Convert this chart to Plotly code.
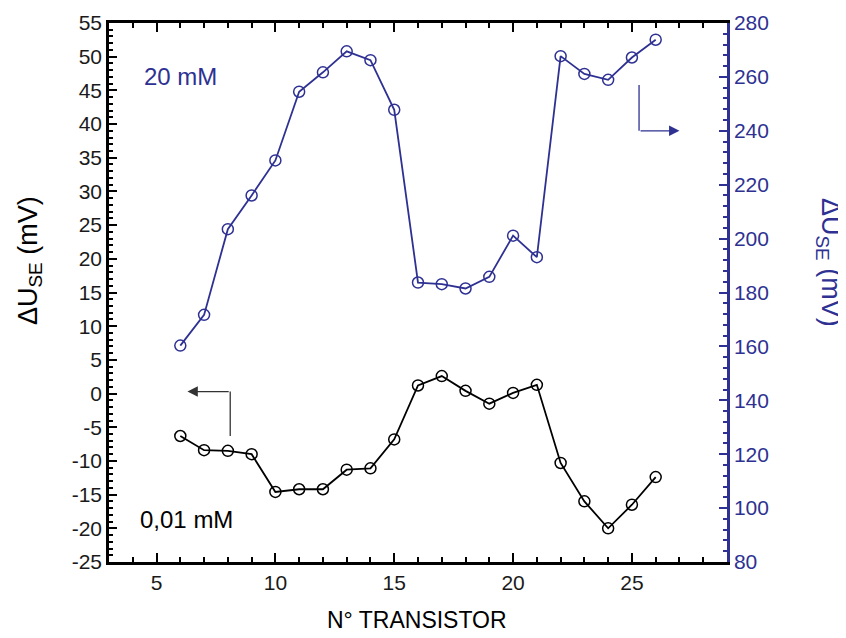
import plotly.graph_objects as go

# transistor index and the two ΔU_SE series
transistor = list(range(6, 27))
du_001mM = [-6.3, -8.4, -8.5, -9.0, -14.6, -14.2, -14.2, -11.3, -11.1, -6.8, 1.2,
            2.6, 0.4, -1.5, 0.1, 1.3, -10.3, -16.0, -20.0, -16.5, -12.4]
du_20mM = [160.3, 171.7, 203.5, 216.0, 229.0, 254.5, 261.7, 269.5, 266.2, 247.8, 183.7,
           183.1, 181.5, 185.8, 201.1, 193.1, 267.7, 261.1, 258.9, 267.2, 273.8]

# tick labels (hyphen minus as in the original)
left_ticks = list(range(-25, 60, 5))
left_labels = [str(v) for v in left_ticks]
right_ticks = list(range(80, 300, 20))
right_labels = [str(v) for v in right_ticks]

BLUE = '#2E3192'
FONT = 'Liberation Sans, Arial, sans-serif'

fig = go.Figure()
fig.add_trace(go.Scatter(
    x=transistor, y=du_001mM, mode='lines+markers', yaxis='y',
    line=dict(color='black', width=1.8),
    marker=dict(symbol='circle-open', size=11, color='black', line=dict(width=1.5)),
    showlegend=False
))
fig.add_trace(go.Scatter(
    x=transistor, y=du_20mM, mode='lines+markers', yaxis='y2',
    line=dict(color=BLUE, width=1.8),
    marker=dict(symbol='circle-open', size=11, color=BLUE, line=dict(width=1.5)),
    showlegend=False
))

# the page body adds an 8px offset, so margins are shifted to compensate
fig.update_layout(
    width=846, height=638,
    margin=dict(l=101, r=127, t=15, b=84),
    plot_bgcolor='white', paper_bgcolor='white',
    font=dict(family=FONT, size=21, color='black'),
    xaxis=dict(
        range=[3, 29], dtick=5, tick0=0, automargin=False,
        ticks='inside', ticklen=9, tickwidth=2, tickcolor='black',
        minor=dict(dtick=1, ticks='inside', ticklen=5, tickwidth=2, tickcolor='black'),
        showline=True, linewidth=2.5, linecolor='black', mirror='ticks',
        showgrid=False, zeroline=False,
        tickfont=dict(size=21, color='#1a1a1a')
    ),
    yaxis=dict(
        range=[-25, 55], tickmode='array', tickvals=left_ticks, ticktext=left_labels,
        automargin=False,
        ticks='inside', ticklen=8, tickwidth=2, tickcolor='black',
        minor=dict(dtick=1, tick0=0, ticks='inside', ticklen=4, tickwidth=2, tickcolor='black'),
        showline=True, linewidth=2.5, linecolor='black',
        showgrid=False, zeroline=False,
        tickfont=dict(size=21, color='#1a1a1a')
    ),
    yaxis2=dict(
        range=[80, 280], tickmode='array', tickvals=right_ticks, ticktext=right_labels,
        overlaying='y', side='right', automargin=False,
        ticks='inside', ticklen=8, tickwidth=2, tickcolor=BLUE,
        minor=dict(dtick=4, tick0=0, ticks='inside', ticklen=4, tickwidth=2, tickcolor=BLUE),
        showline=True, linewidth=2.5, linecolor=BLUE,
        showgrid=False, zeroline=False,
        tickfont=dict(size=21, color=BLUE)
    ),
)

# axis titles
fig.add_annotation(xref='paper', yref='paper', x=-0.128, y=0.56, textangle=-90,
                   xanchor='center', yanchor='middle',
                   text='ΔU<sub>SE</sub> (mV)', showarrow=False,
                   font=dict(size=27, color='black'))
fig.add_annotation(xref='paper', yref='paper', x=1.165, y=0.555, textangle=90,
                   xanchor='center', yanchor='middle',
                   text='ΔU<sub>SE</sub> (mV)', showarrow=False,
                   font=dict(size=27, color=BLUE))
fig.add_annotation(xref='paper', yref='paper', x=0.498, y=-0.108,
                   xanchor='center', yanchor='middle',
                   text='N° TRANSISTOR', showarrow=False,
                   font=dict(size=23, color='black'))

# series labels
fig.add_annotation(xref='x', yref='y', x=4.4, y=47.0, xanchor='left', yanchor='middle',
                   text='20 mM', showarrow=False, font=dict(size=24, color=BLUE))
fig.add_annotation(xref='x', yref='y', x=4.2, y=-18.7, xanchor='left', yanchor='middle',
                   text='0,01 mM', showarrow=False, font=dict(size=24, color='black'))

# axis pointer arrows
fig.add_shape(type='line', xref='x', yref='y', x0=8.1, x1=8.1, y0=-6.3, y1=0.3,
              line=dict(color='#333', width=1.3))
fig.add_annotation(xref='x', yref='y', axref='x', ayref='y', x=6.3, y=0.3, ax=8.1, ay=0.3,
                   text='', showarrow=True, arrowhead=2, arrowsize=1.6, arrowwidth=1.3,
                   arrowcolor='#333')
fig.add_shape(type='line', xref='x', yref='y2', x0=25.3, x1=25.3, y0=257, y1=240,
              line=dict(color=BLUE, width=1.3))
fig.add_annotation(xref='x', yref='y2', axref='x', ayref='y2', x=27.0, y=240, ax=25.3, ay=240,
                   text='', showarrow=True, arrowhead=2, arrowsize=1.6, arrowwidth=1.3,
                   arrowcolor=BLUE)

fig.write_html('out.html')
